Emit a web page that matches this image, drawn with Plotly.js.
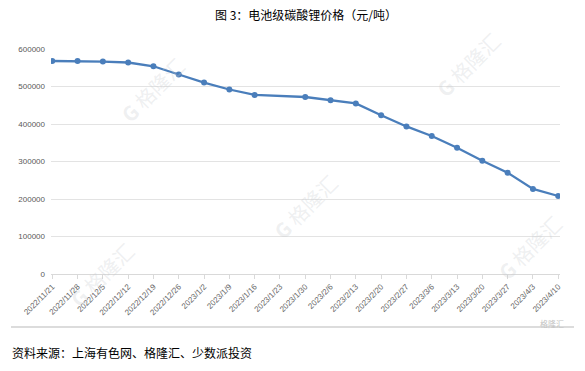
<!DOCTYPE html>
<html>
<head>
<meta charset="utf-8">
<script src="https://cdn.plot.ly/plotly-3.0.1.min.js"></script>
<style>html,body{margin:0;padding:0;background:#fff;}#chart{width:585px;height:371px;}</style>
</head>
<body>
<div id="chart"></div>
<script>
const categories = ["2022/11/21","2022/11/28","2022/12/5","2022/12/12","2022/12/19","2022/12/26","2023/1/2","2023/1/9","2023/1/16","2023/1/23","2023/1/30","2023/2/6","2023/2/13","2023/2/20","2023/2/27","2023/3/6","2023/3/13","2023/3/20","2023/3/27","2023/4/3","2023/4/10"];
const prices = [568000,568000,566500,564000,554000,532000,510500,492000,477500,null,472000,463500,455000,423500,393500,368000,336500,302000,270000,227000,208000];
const yTicks = [0,100000,200000,300000,400000,500000,600000];
const titleText = "图 3：电池级碳酸锂价格（元/吨）";
const sourceText = "资料来源：上海有色网、格隆汇、少数派投资";
const watermarkText = "格隆汇";

const trace = {
  x: categories.map((c,i)=>i),
  y: prices,
  type: 'scatter',
  mode: 'lines+markers',
  connectgaps: true,
  line: {color: '#4a7ebb', width: 2.3},
  marker: {color: '#4a7ebb', size: 6},
  hoverinfo: 'skip'
};

const wm = [[0.2,0.82],[0.5,0.3],[0.82,0.93],[0.1,0.0],[0.94,0.12]];
const annotations = [
  {xref:'paper', yref:'paper', x:0.5, y:1.155, text:titleText, showarrow:false,
   font:{family:'"Noto Sans CJK SC", sans-serif', size:12, color:'#000'}, xanchor:'center', yanchor:'middle'},
  {xref:'paper', yref:'paper', x:-0.08, y:-0.35, text:sourceText, showarrow:false,
   font:{family:'"Noto Sans CJK SC", sans-serif', size:12, color:'#000'}, xanchor:'left', yanchor:'middle'},
  {xref:'paper', yref:'paper', x:0.985, y:-0.22, text:watermarkText, showarrow:false,
   font:{family:'"Noto Sans CJK SC", sans-serif', size:8, color:'#c4c4c4'}, xanchor:'center', yanchor:'middle'}
];
wm.forEach(p=>annotations.push({xref:'paper', yref:'paper', x:p[0], y:p[1], text:'<b>G</b> '+watermarkText, showarrow:false, textangle:-45,
  xanchor:'center', yanchor:'middle',
  font:{family:'"Noto Sans CJK SC", sans-serif', size:20, color:'rgba(200,203,208,0.3)'}}));

const layout = {
  width:585, height:371,
  margin:{l:51, r:25, t:49, b:97},
  paper_bgcolor:'#fff', plot_bgcolor:'#fff',
  showlegend:false,
  xaxis:{
    range:[-0.05,20.07], tickmode:'array', tickvals:categories.map((c,i)=>i), ticktext:categories,
    tickangle:-45, tickfont:{family:'"Liberation Sans", sans-serif', size:8, color:'#666666'},
    showgrid:false, showline:true, linecolor:'#d9d9d9', linewidth:1,
    ticks:'outside', ticklen:4, tickcolor:'#d9d9d9', zeroline:false, fixedrange:true
  },
  yaxis:{
    range:[0,600000], tickmode:'array', tickvals:yTicks, ticktext:yTicks.map(String),
    tickfont:{family:'"Liberation Sans", sans-serif', size:8, color:'#595959'},
    showgrid:true, gridcolor:'#e3e3e3', gridwidth:1, zeroline:false, showline:false,
    ticks:'', ticklabelstandoff:5, fixedrange:true
  },
  shapes:[
    {type:'line', xref:'paper', yref:'paper', x0:(11-51)/509, x1:(574-51)/509, y0:-(327-274)/225, y1:-(327-274)/225,
     line:{color:'#d0d0d0', width:1.5}}
  ],
  annotations: annotations
};

Plotly.newPlot('chart',[trace],layout,{staticPlot:true, displayModeBar:false});
</script>
</body>
</html>
